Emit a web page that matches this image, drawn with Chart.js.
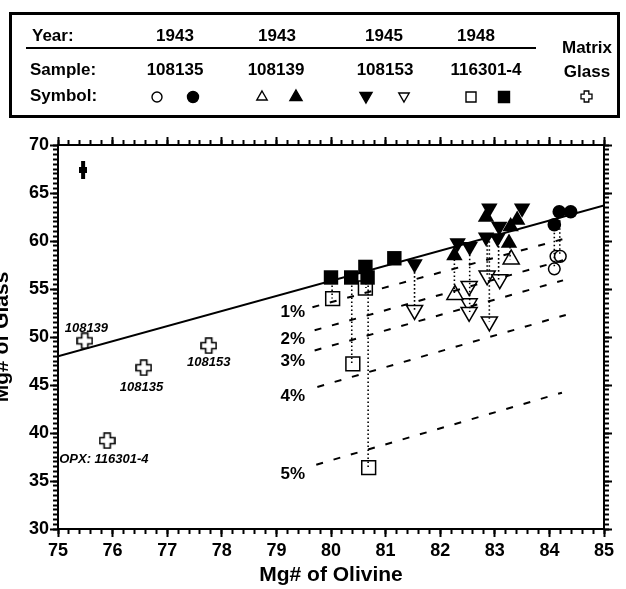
<!DOCTYPE html>
<html>
<head>
<meta charset="utf-8">
<script src="https://cdn.jsdelivr.net/npm/chart.js@4.4.0/dist/chart.umd.min.js"></script>
<style>
html, body { margin: 0; padding: 0; background: #fff; overflow: hidden; }
canvas { display: block; }
</style>
</head>
<body>
<canvas id="mgChart" width="626" height="589"></canvas>
<script>
// legend table text
var years = ['1943', '1943', '1945', '1948'];
var samples = ['108135', '108139', '108153', '116301-4'];

// 108135 - circles
var c135OpenX = [84.12, 84.20, 84.09];
var c135OpenY = [58.4, 58.4, 57.1];
var c135SolidX = [84.18, 84.39, 84.09];
var c135SolidY = [63.05, 63.05, 61.7];

// 108139 - up triangles
var t139OpenX = [82.27, 83.30];
var t139OpenY = [54.4, 58.1];
var t139SolidX = [82.84, 83.41, 83.29, 83.26, 82.26];
var t139SolidY = [62.5, 62.2, 61.5, 59.8, 58.5];

// 108153 - down triangles
var t153SolidX = [82.90, 83.50, 83.08, 82.84, 83.05, 82.32, 82.54, 81.53];
var t153SolidY = [63.4, 63.4, 61.5, 60.4, 60.3, 59.8, 59.4, 57.6];
var t153OpenX = [81.53, 82.53, 82.53, 82.53, 82.86, 82.90, 83.09];
var t153OpenY = [52.8, 55.3, 53.5, 52.6, 56.4, 51.6, 56.0];

// 116301-4 - squares
var s301OpenX = [80.03, 80.40, 80.63, 80.69];
var s301OpenY = [54.0, 47.2, 55.1, 36.4];
var s301SolidX = [80.00, 80.37, 80.63, 80.67, 81.16];
var s301SolidY = [56.2, 56.2, 57.3, 56.2, 58.2];

// matrix glass
var matrixX = [75.49, 76.57, 77.76, 75.90];
var matrixY = [49.6, 46.8, 49.1, 39.2];
var matrixNames = ['108139', '108135', '108153', 'OPX: 116301-4'];
var errBarX = [75.46];
var errBarY = [67.4];

// dotted tie lines (solid symbol -> open symbol)
var tieX = [80.02, 80.38, 80.64, 80.68, 81.53, 82.26, 82.54, 82.86, 82.90, 83.07, 83.28, 84.09, 84.19];
var tieTop = [56.2, 56.2, 57.3, 56.2, 57.6, 58.5, 59.4, 60.4, 60.4, 60.3, 59.8, 61.7, 63.0];
var tieBottom = [54.0, 47.2, 55.1, 36.4, 52.8, 54.4, 52.6, 56.4, 51.6, 56.0, 58.1, 57.1, 58.4];

// equilibrium line
var eqX = [75, 85];
var eqY = [48.0, 63.7];

// olivine addition lines
var pctLabels = ['1%', '2%', '3%', '4%', '5%'];
var pctStartX = [79.66, 79.70, 79.70, 79.75, 79.73];
var pctStartY = [53.1, 50.7, 48.6, 44.8, 36.7];
var pctEndX = [84.25, 84.25, 84.25, 84.30, 84.23];
var pctEndY = [60.2, 58.0, 55.9, 52.3, 44.2];

var FONT = '"Liberation Sans", Arial, Helvetica, sans-serif';
Chart.defaults.font.family = FONT;
Chart.defaults.color = '#000';

function pts(xs, ys) {
	return xs.map(function (x, i) { return { x: x, y: ys[i] }; });
}

function makeCross(size, lw) {
	var c = document.createElement('canvas');
	c.width = size; c.height = size;
	var g = c.getContext('2d');
	var m = size / 2, a = size * 0.18, L = size / 2 - 1;
	g.beginPath();
	g.moveTo(m - a, m - L); g.lineTo(m + a, m - L); g.lineTo(m + a, m - a);
	g.lineTo(m + L, m - a); g.lineTo(m + L, m + a); g.lineTo(m + a, m + a);
	g.lineTo(m + a, m + L); g.lineTo(m - a, m + L); g.lineTo(m - a, m + a);
	g.lineTo(m - L, m + a); g.lineTo(m - L, m - a); g.lineTo(m - a, m - a);
	g.closePath();
	g.fillStyle = '#fff'; g.fill();
	g.lineWidth = lw; g.strokeStyle = '#000'; g.stroke();
	return c;
}

function makeBar() {
	var c = document.createElement('canvas');
	c.width = 8; c.height = 18;
	var g = c.getContext('2d');
	g.fillStyle = '#000';
	g.fillRect(2, 0, 4, 18);
	g.fillRect(0, 6, 8, 6);
	return c;
}

var crossImg = makeCross(17, 1.6);
var legendCross = makeCross(13, 1.3);

var tieData = [];
tieX.forEach(function (x, i) {
	tieData.push({ x: x, y: tieTop[i] }, { x: x, y: tieBottom[i] }, { x: x, y: null });
});
var pctData = [];
pctStartX.forEach(function (x, i) {
	pctData.push({ x: x, y: pctStartY[i] }, { x: pctEndX[i], y: pctEndY[i] }, { x: pctEndX[i], y: null });
});

function marker(label, data, style, radius, filled, rot) {
	return {
		label: label, data: data, pointStyle: style, pointRadius: radius,
		pointRotation: rot || 0,
		backgroundColor: filled ? '#000' : '#fff', borderColor: '#000',
		borderWidth: filled ? 0 : 1.5, order: filled ? 0 : 2
	};
}

function legendMark(ctx, kind, x, y, r, filled) {
	ctx.beginPath();
	if (kind === 'circle') {
		ctx.arc(x, y, r, 0, Math.PI * 2);
	} else if (kind === 'up') {
		ctx.moveTo(x, y - r); ctx.lineTo(x + r * 0.866, y + r / 2); ctx.lineTo(x - r * 0.866, y + r / 2); ctx.closePath();
	} else if (kind === 'down') {
		ctx.moveTo(x, y + r); ctx.lineTo(x + r * 0.866, y - r / 2); ctx.lineTo(x - r * 0.866, y - r / 2); ctx.closePath();
	} else {
		ctx.rect(x - r, y - r, 2 * r, 2 * r);
	}
	ctx.fillStyle = filled ? '#000' : '#fff';
	ctx.fill();
	ctx.lineWidth = 1.4;
	ctx.strokeStyle = '#000';
	ctx.stroke();
}

var tablePlugin = {
	id: 'sampleTable',
	afterDraw: function (chart) {
		var ctx = chart.ctx;
		ctx.save();
		ctx.strokeStyle = '#000';
		ctx.lineWidth = 3;
		ctx.strokeRect(10.5, 13.5, 608, 103);
		ctx.lineWidth = 2;
		ctx.beginPath(); ctx.moveTo(26, 48); ctx.lineTo(536, 48); ctx.stroke();

		ctx.fillStyle = '#000';
		ctx.font = 'bold 17px ' + FONT;
		ctx.textBaseline = 'middle';
		ctx.textAlign = 'left';
		ctx.fillText('Year:', 32, 36);
		ctx.fillText('Sample:', 30, 70);
		ctx.fillText('Symbol:', 30, 96);
		ctx.textAlign = 'center';
		var yearCols = [175, 277, 384, 476];
		var sampleCols = [175, 276, 385, 486];
		years.forEach(function (t, i) { ctx.fillText(t, yearCols[i], 36); });
		samples.forEach(function (t, i) { ctx.fillText(t, sampleCols[i], 70); });
		ctx.fillText('Matrix', 587, 48);
		ctx.fillText('Glass', 587, 72);

		legendMark(ctx, 'circle', 157, 97, 5, false);
		legendMark(ctx, 'circle', 193, 97, 5.5, true);
		legendMark(ctx, 'up', 262, 97, 6, false);
		legendMark(ctx, 'up', 296, 97, 7, true);
		legendMark(ctx, 'down', 366, 96, 7, true);
		legendMark(ctx, 'down', 404, 96, 6, false);
		legendMark(ctx, 'square', 471, 97, 5, false);
		legendMark(ctx, 'square', 504, 97, 5.5, true);
		ctx.drawImage(legendCross, 580, 90);
		ctx.restore();
	},
	afterDatasetsDraw: function (chart) {
		var ctx = chart.ctx, xs = chart.scales.x, ys = chart.scales.y;
		ctx.save();
		ctx.fillStyle = '#000';
		ctx.textAlign = 'center';
		ctx.textBaseline = 'middle';
		ctx.font = 'italic bold 13px ' + FONT;
		var namePos = [[75.52, 50.9], [76.53, 44.7], [77.76, 47.3], [75.84, 37.2]];
		matrixNames.forEach(function (t, i) {
			ctx.fillText(t, xs.getPixelForValue(namePos[i][0]), ys.getPixelForValue(namePos[i][1]));
		});
		ctx.font = 'bold 17px ' + FONT;
		var pctY = [52.6, 49.8, 47.5, 43.85, 35.7];
		pctLabels.forEach(function (t, i) {
			ctx.fillText(t, xs.getPixelForValue(79.3), ys.getPixelForValue(pctY[i]));
		});
		ctx.restore();
	}
};

function axisGrid(len) {
	return { drawOnChartArea: false, drawTicks: true, tickLength: len, tickWidth: 2, tickColor: '#000' };
}
var tickFont = { size: 18, weight: 'bold' };

new Chart(document.getElementById('mgChart'), {
	type: 'scatter',
	data: {
		datasets: [
			marker('108135 open', pts(c135OpenX, c135OpenY), 'circle', 5.8, false),
			marker('108135 solid', pts(c135SolidX, c135SolidY), 'circle', 6.8, true),
			marker('108139 open', pts(t139OpenX, t139OpenY), 'triangle', 9.3, false),
			marker('108139 solid', pts(t139SolidX, t139SolidY), 'triangle', 9.5, true),
			marker('108153 solid', pts(t153SolidX, t153SolidY), 'triangle', 9.5, true, 180),
			marker('108153 open', pts(t153OpenX, t153OpenY), 'triangle', 9.3, false, 180),
			marker('116301-4 open', pts(s301OpenX, s301OpenY), 'rect', 9.8, false),
			marker('116301-4 solid', pts(s301SolidX, s301SolidY), 'rect', 10.2, true),
			{ label: 'Matrix glass', data: pts(matrixX, matrixY), pointStyle: crossImg, pointRadius: 9, order: 2 },
			{ label: 'error', data: pts(errBarX, errBarY), pointStyle: makeBar(), pointRadius: 9, order: 0 },
			{ label: 'ties', data: tieData, showLine: true, pointRadius: 0, borderColor: '#000',
				borderWidth: 1.6, borderDash: [1.6, 2.4], spanGaps: false, order: 1 },
			{ label: 'olivine addition', data: pctData, showLine: true, pointRadius: 0, borderColor: '#000',
				borderWidth: 2, borderDash: [7, 11], spanGaps: false, order: 1 },
			{ label: 'equilibrium', data: pts(eqX, eqY), showLine: true, pointRadius: 0, borderColor: '#000',
				borderWidth: 2, order: 1 }
		]
	},
	options: {
		responsive: false,
		animation: false,
		devicePixelRatio: 1,
		layout: { padding: 0 },
		plugins: { legend: { display: false }, tooltip: { enabled: false } },
		scales: {
			x: {
				type: 'linear', position: 'bottom', weight: 1, min: 75, max: 85,
				ticks: { stepSize: 1, autoSkip: false, maxRotation: 0, padding: 3, color: '#000', font: tickFont },
				grid: axisGrid(8),
				border: { color: '#000', width: 2 },
				title: { display: true, text: 'Mg# of Olivine', color: '#000', font: { size: 21, weight: 'bold' }, padding: { top: 0, bottom: 1 } },
				afterFit: function (s) { s.height = 60; }
			},
			xMinor: {
				type: 'linear', position: 'bottom', weight: 0, min: 75, max: 85,
				ticks: { stepSize: 0.2, autoSkip: false, display: false },
				grid: axisGrid(5),
				border: { display: false },
				afterFit: function (s) { s.height = 0; }
			},
			xTop: {
				type: 'linear', position: 'top', weight: 1, min: 75, max: 85,
				ticks: { stepSize: 1, autoSkip: false, display: false },
				grid: axisGrid(8),
				border: { color: '#000', width: 2 },
				afterFit: function (s) { s.height = 145; }
			},
			xTopMinor: {
				type: 'linear', position: 'top', weight: 0, min: 75, max: 85,
				ticks: { stepSize: 0.2, autoSkip: false, display: false },
				grid: axisGrid(5),
				border: { display: false },
				afterFit: function (s) { s.height = 0; }
			},
			y: {
				type: 'linear', position: 'left', weight: 1, min: 30, max: 70,
				ticks: { stepSize: 5, autoSkip: false, padding: 1, color: '#000', font: tickFont },
				grid: axisGrid(8),
				border: { color: '#000', width: 2 },
				title: { display: true, text: 'Mg# of Glass', color: '#000', font: { size: 21, weight: 'bold', lineHeight: 0.2 }, padding: 0 },
				afterFit: function (s) { s.width = 58; }
			},
			yMinor: {
				type: 'linear', position: 'left', weight: 0, min: 30, max: 70,
				ticks: { stepSize: 0.5, autoSkip: false, display: false },
				grid: axisGrid(5),
				border: { display: false },
				afterFit: function (s) { s.width = 0; }
			},
			yRight: {
				type: 'linear', position: 'right', weight: 1, min: 30, max: 70,
				ticks: { stepSize: 5, autoSkip: false, display: false },
				grid: axisGrid(8),
				border: { color: '#000', width: 2 },
				afterFit: function (s) { s.width = 22; }
			},
			yRightMinor: {
				type: 'linear', position: 'right', weight: 0, min: 30, max: 70,
				ticks: { stepSize: 0.5, autoSkip: false, display: false },
				grid: axisGrid(5),
				border: { display: false },
				afterFit: function (s) { s.width = 0; }
			}
		}
	},
	plugins: [tablePlugin]
});
</script>
</body>
</html>
